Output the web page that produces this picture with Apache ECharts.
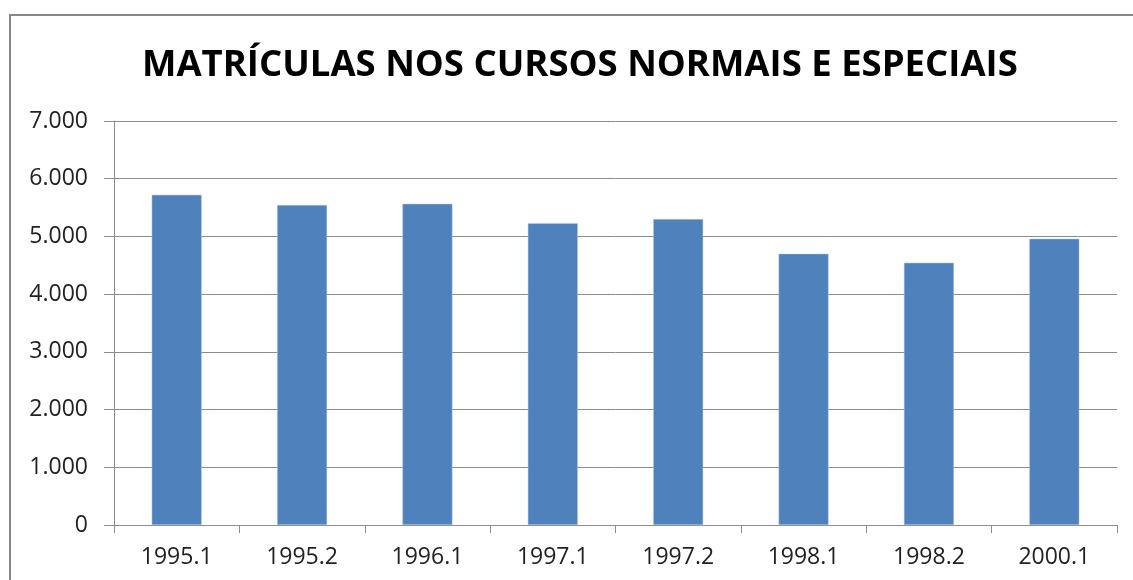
<!DOCTYPE html>
<html>
<head>
<meta charset="utf-8">
<script src="https://cdn.jsdelivr.net/npm/echarts@6/dist/echarts.min.js"></script>
<style>
  html, body { margin: 0; padding: 0; background: #fff; }
  #main { width: 1133px; height: 580px; }
</style>
</head>
<body>
<div id="main"></div>
<script>
// 学期
var periodos = ['1995.1', '1995.2', '1996.1', '1997.1', '1997.2', '1998.1', '1998.2', '2000.1'];
// 每学期的注册人数
var matriculas = [5720, 5545, 5565, 5230, 5300, 4700, 4545, 4960];
// y轴刻度
var yMin = 0, yMax = 7000, yStep = 1000;

var titulo = 'MATRÍCULAS NOS CURSOS NORMAIS E ESPECIAIS';

// 千分位用点号
function fmt(v) {
    return String(v).replace(/\B(?=(\d{3})+(?!\d))/g, '.');
}

var myChart = echarts.init(document.getElementById('main'));

var option = {
    backgroundColor: '#fff',
    animation: false,
    title: {
        text: titulo,
        left: 137,
        top: 42,
        textStyle: {
            fontFamily: 'Open Sans',
            fontWeight: 'bold',
            fontSize: 36.5,
            color: '#000'
        }
    },
    graphic: [
        {
            type: 'rect',
            shape: { x: 10, y: 15, width: 1200, height: 700 },
            style: { fill: 'none', stroke: '#878787', lineWidth: 2 },
            silent: true
        }
    ],
    grid: {
        left: 114,
        right: 16,
        top: 121,
        bottom: 55,
        containLabel: false
    },
    xAxis: {
        type: 'category',
        data: periodos,
        boundaryGap: true,
        axisLine: { lineStyle: { color: '#8c8c8c', width: 1 } },
        axisTick: { show: true, length: 8, alignWithLabel: false, lineStyle: { color: '#8c8c8c' } },
        axisLabel: {
            fontFamily: 'Open Sans',
            fontSize: 23,
            color: '#222',
            margin: 21
        }
    },
    yAxis: {
        type: 'value',
        min: yMin,
        max: yMax,
        interval: yStep,
        axisLine: { show: true, lineStyle: { color: '#8c8c8c', width: 1 } },
        axisTick: { show: true, length: 10, lineStyle: { color: '#8c8c8c' } },
        splitLine: { lineStyle: { color: '#8c8c8c', width: 1 } },
        axisLabel: {
            fontFamily: 'Open Sans',
            fontSize: 23,
            color: '#222',
            margin: 26,
            formatter: fmt
        }
    },
    series: [
        {
            type: 'bar',
            data: matriculas,
            barWidth: 50,
            itemStyle: { color: '#4f81bd', borderColor: '#b9cde5', borderWidth: 0.5 }
        }
    ]
};

myChart.setOption(option);
</script>
</body>
</html>
